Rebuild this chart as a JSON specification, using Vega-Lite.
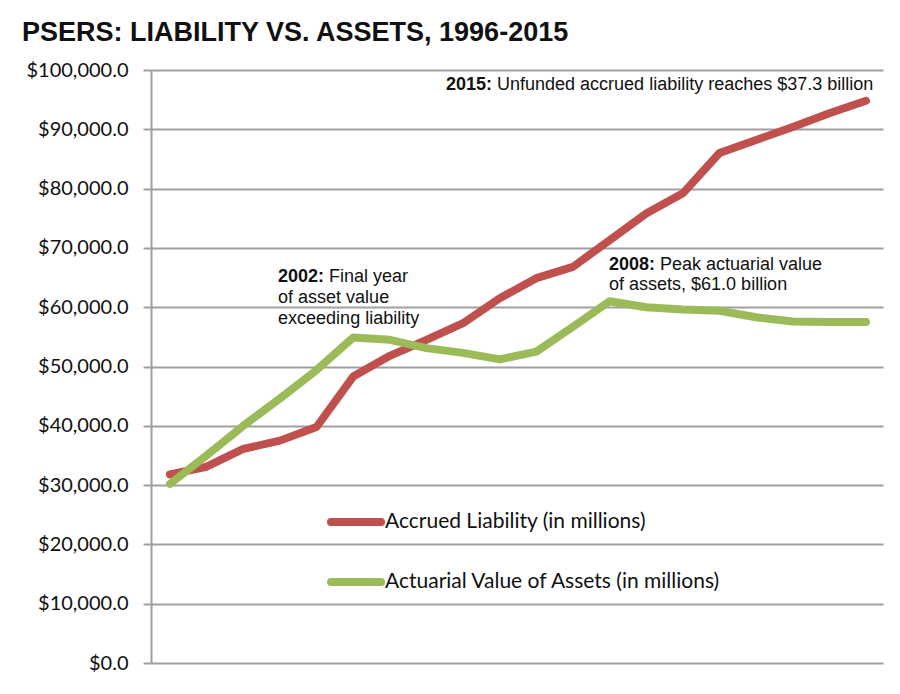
{
  "$schema": "https://vega.github.io/schema/vega-lite/v6.json",
  "width": 732,
  "height": 593,
  "autosize": {"type": "none"},
  "padding": {"left": 151, "top": 70, "right": 17, "bottom": 31},
  "background": "white",
  "title": {
    "text": "PSERS: LIABILITY VS. ASSETS, 1996-2015",
    "font": "Liberation Sans",
    "fontSize": 27,
    "fontWeight": "bold",
    "color": "#111111",
    "anchor": "start",
    "frame": "group",
    "dx": -129,
    "dy": 26,
    "baseline": "alphabetic",
    "offset": 18
  },
  "config": {
    "view": {"stroke": null},
    "axis": {"labelFont": "Lato", "labelColor": "#111111"}
  },
  "datasets": {
    "series": [
      {"year": 1996, "series": "Accrued Liability (in millions)", "value": 31800},
      {"year": 1997, "series": "Accrued Liability (in millions)", "value": 33100},
      {"year": 1998, "series": "Accrued Liability (in millions)", "value": 36100},
      {"year": 1999, "series": "Accrued Liability (in millions)", "value": 37500},
      {"year": 2000, "series": "Accrued Liability (in millions)", "value": 39800},
      {"year": 2001, "series": "Accrued Liability (in millions)", "value": 48300},
      {"year": 2002, "series": "Accrued Liability (in millions)", "value": 51800},
      {"year": 2003, "series": "Accrued Liability (in millions)", "value": 54500},
      {"year": 2004, "series": "Accrued Liability (in millions)", "value": 57300},
      {"year": 2005, "series": "Accrued Liability (in millions)", "value": 61500},
      {"year": 2006, "series": "Accrued Liability (in millions)", "value": 64900},
      {"year": 2007, "series": "Accrued Liability (in millions)", "value": 66800},
      {"year": 2008, "series": "Accrued Liability (in millions)", "value": 71300},
      {"year": 2009, "series": "Accrued Liability (in millions)", "value": 75800},
      {"year": 2010, "series": "Accrued Liability (in millions)", "value": 79200},
      {"year": 2011, "series": "Accrued Liability (in millions)", "value": 86000},
      {"year": 2012, "series": "Accrued Liability (in millions)", "value": 88200},
      {"year": 2013, "series": "Accrued Liability (in millions)", "value": 90400},
      {"year": 2014, "series": "Accrued Liability (in millions)", "value": 92700},
      {"year": 2015, "series": "Accrued Liability (in millions)", "value": 94800},
      {"year": 1996, "series": "Actuarial Value of Assets (in millions)", "value": 30200},
      {"year": 1997, "series": "Actuarial Value of Assets (in millions)", "value": 35000},
      {"year": 1998, "series": "Actuarial Value of Assets (in millions)", "value": 40000},
      {"year": 1999, "series": "Actuarial Value of Assets (in millions)", "value": 44600},
      {"year": 2000, "series": "Actuarial Value of Assets (in millions)", "value": 49400},
      {"year": 2001, "series": "Actuarial Value of Assets (in millions)", "value": 54900},
      {"year": 2002, "series": "Actuarial Value of Assets (in millions)", "value": 54500},
      {"year": 2003, "series": "Actuarial Value of Assets (in millions)", "value": 53100},
      {"year": 2004, "series": "Actuarial Value of Assets (in millions)", "value": 52300},
      {"year": 2005, "series": "Actuarial Value of Assets (in millions)", "value": 51200},
      {"year": 2006, "series": "Actuarial Value of Assets (in millions)", "value": 52500},
      {"year": 2007, "series": "Actuarial Value of Assets (in millions)", "value": 56700},
      {"year": 2008, "series": "Actuarial Value of Assets (in millions)", "value": 61000},
      {"year": 2009, "series": "Actuarial Value of Assets (in millions)", "value": 60000},
      {"year": 2010, "series": "Actuarial Value of Assets (in millions)", "value": 59600},
      {"year": 2011, "series": "Actuarial Value of Assets (in millions)", "value": 59400},
      {"year": 2012, "series": "Actuarial Value of Assets (in millions)", "value": 58300},
      {"year": 2013, "series": "Actuarial Value of Assets (in millions)", "value": 57600},
      {"year": 2014, "series": "Actuarial Value of Assets (in millions)", "value": 57500},
      {"year": 2015, "series": "Actuarial Value of Assets (in millions)", "value": 57500}
    ],
    "notes": [{"id": 1}]
  },
  "layer": [
    {
      "data": {"name": "series"},
      "mark": {"type": "line", "strokeWidth": 8, "strokeCap": "round", "strokeJoin": "round"},
      "encoding": {
        "x": {"field": "year", "type": "quantitative", "scale": {"domain": [1995.481, 2015.464], "nice": false, "zero": false}, "axis": null},
        "y": {
          "field": "value", "type": "quantitative",
          "scale": {"domain": [0, 100000], "nice": false},
          "axis": {
            "title": null,
            "values": [0, 10000, 20000, 30000, 40000, 50000, 60000, 70000, 80000, 90000, 100000],
            "format": "$,.1f",
            "labelFontSize": 20,
            "labelPadding": 15,
            "tickSize": 8,
            "tickColor": "#a0a0a0",
            "tickWidth": 2,
            "domainColor": "#a0a0a0",
            "domainWidth": 2,
            "gridColor": "#a0a0a0",
            "gridWidth": 2,
            "gridOpacity": 1,
            "labelBaseline": "middle"
          }
        },
        "color": {
          "field": "series", "type": "nominal",
          "scale": {"domain": ["Accrued Liability (in millions)", "Actuarial Value of Assets (in millions)"], "range": ["#c0504d", "#9bbb59"]},
          "legend": {
            "title": null,
            "orient": "none",
            "legendX": 176,
            "legendY": 423,
            "symbolType": "stroke",
            "symbolSize": 2500,
            "symbolStrokeWidth": 8,
            "labelFont": "Lato",
            "labelFontSize": 21,
            "labelColor": "#111111",
            "labelOffset": 0,
            "rowPadding": 15,
            "labelLimit": 500,
            "encode": {"symbols": {"update": {"strokeCap": {"value": "round"}}}}
          }
        }
      }
    },
    {
      "data": {"name": "notes"},
      "mark": {"type": "text", "font": "Liberation Sans", "fontSize": 18, "fontWeight": "bold", "align": "left", "baseline": "middle", "color": "#111111"},
      "encoding": {"x": {"datum": 1998.95}, "y": {"datum": 65140}, "text": {"value": "2002:"}}
    },
    {
      "data": {"name": "notes"},
      "mark": {"type": "text", "font": "Liberation Sans", "fontSize": 18, "align": "left", "baseline": "middle", "color": "#111111", "dx": 51},
      "encoding": {"x": {"datum": 1998.95}, "y": {"datum": 65140}, "text": {"value": "Final year"}}
    },
    {
      "data": {"name": "notes"},
      "mark": {"type": "text", "font": "Liberation Sans", "fontSize": 18, "align": "left", "baseline": "middle", "color": "#111111", "lineHeight": 21.5},
      "encoding": {"x": {"datum": 1998.95}, "y": {"datum": 61600}, "text": {"value": ["of asset value", "exceeding liability"]}}
    },
    {
      "data": {"name": "notes"},
      "mark": {"type": "text", "font": "Liberation Sans", "fontSize": 18, "fontWeight": "bold", "align": "left", "baseline": "middle", "color": "#111111"},
      "encoding": {"x": {"datum": 2007.985}, "y": {"datum": 67120}, "text": {"value": "2008:"}}
    },
    {
      "data": {"name": "notes"},
      "mark": {"type": "text", "font": "Liberation Sans", "fontSize": 18, "align": "left", "baseline": "middle", "color": "#111111", "dx": 51},
      "encoding": {"x": {"datum": 2007.985}, "y": {"datum": 67120}, "text": {"value": "Peak actuarial value"}}
    },
    {
      "data": {"name": "notes"},
      "mark": {"type": "text", "font": "Liberation Sans", "fontSize": 18, "align": "left", "baseline": "middle", "color": "#111111"},
      "encoding": {"x": {"datum": 2007.985}, "y": {"datum": 63740}, "text": {"value": "of assets, $61.0 billion"}}
    },
    {
      "data": {"name": "notes"},
      "mark": {"type": "text", "font": "Liberation Sans", "fontSize": 18, "fontWeight": "bold", "align": "left", "baseline": "middle", "color": "#111111"},
      "encoding": {"x": {"datum": 2003.535}, "y": {"datum": 97470}, "text": {"value": "2015:"}}
    },
    {
      "data": {"name": "notes"},
      "mark": {"type": "text", "font": "Liberation Sans", "fontSize": 18, "align": "left", "baseline": "middle", "color": "#111111", "dx": 51},
      "encoding": {"x": {"datum": 2003.535}, "y": {"datum": 97470}, "text": {"value": "Unfunded accrued liability reaches $37.3 billion"}}
    }
  ]
}
